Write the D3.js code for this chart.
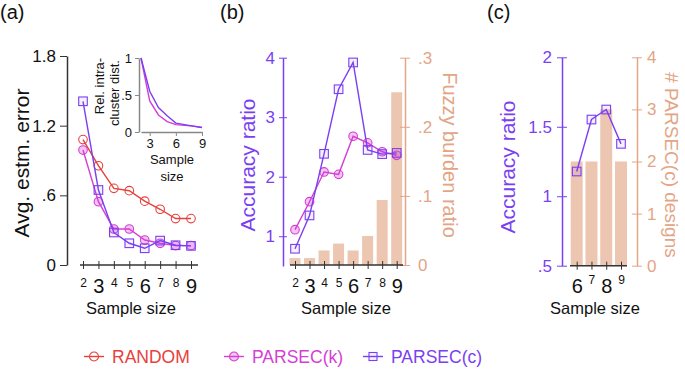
<!DOCTYPE html>
<html>
<head>
<meta charset="utf-8">
<script src="https://cdn.jsdelivr.net/npm/d3@7"></script>
<style>
  body { margin: 0; background: #fff; }
  svg { font-family: "Liberation Sans", Arial, sans-serif; }
  .domain { stroke-width: 1.5; }
</style>
</head>
<body>
<div class="chart"></div>
<script>
// data
var sizes = [2, 3, 4, 5, 6, 7, 8, 9];
var errRandom = [1.08, 0.855, 0.66, 0.64, 0.55, 0.48, 0.40, 0.40];
var errParsecK = [0.99, 0.545, 0.31, 0.31, 0.215, 0.187, 0.167, 0.167];
var errParsecC = [1.41, 0.646, 0.28, 0.187, 0.144, 0.21, 0.17, 0.165];
var distParsecK = [1, 0.42, 0.23, 0.14, 0.10, 0.09, 0.08, 0.06];
var distParsecC = [1, 0.55, 0.33, 0.22, 0.12, 0.10, 0.08, 0.06];
var accParsecC = [0.79, 1.35, 2.385, 3.47, 3.92, 2.45, 2.38, 2.40];
var accParsecK = [1.11, 1.58, 2.08, 2.04, 2.68, 2.57, 2.42, 2.36];
var fuzzyBurden = [0.01, 0.01, 0.021, 0.031, 0.021, 0.042, 0.094, 0.25];
var cSizes = [6, 7, 8, 9];
var cAccuracy = [1.178, 1.552, 1.624, 1.377];
var cDesigns = [2, 2, 3, 2];
var bigTicksAB = [3, 6, 9];
var bigTicksC = [6, 8];

var red = "#e8403c";
var magenta = "#d43fd4";
var purple = "#7b3ff2";
var peach = "#e3a585";
var barColor = "#ecc6b0";
var dark = "#333";

var width = 685;
var height = 375;

// ".6" style labels, no leading zero
var noZero = d => d === 0 ? "0" : String(d).replace(/^0/, "");

var svg = d3.select(".chart")
            .append("svg")
            .attr("width", width)
            .attr("height", height);

// helper: make tick lines cross the axis line
function crossTicks(g, size, vertical) {
  if (vertical) {
    g.selectAll(".tick line").attr("x1", -size).attr("x2", size);
  } else {
    g.selectAll(".tick line").attr("y1", -size).attr("y2", size);
  }
}

function sizeAxis(g, bigList, bigSize, smallSize, bigY, smallY) {
  g.selectAll(".tick text")
   .attr("dy", null)
   .attr("y", d => bigList.indexOf(d) >= 0 ? bigY : smallY)
   .style("font-size", d => bigList.indexOf(d) >= 0 ? bigSize + "px" : smallSize + "px")
   .attr("fill", "#111");
}

function drawSeries(g, xs, ys, xScale, yScale, color, marker, fill) {
  var line = d3.line().x((d, i) => xScale(xs[i])).y(d => yScale(d));
  g.append("path")
   .datum(ys)
   .attr("d", line)
   .attr("fill", "none")
   .attr("stroke", color)
   .attr("stroke-width", 1.4);
  if (marker === "circle") {
    g.selectAll(null)
     .data(ys)
     .enter()
     .append("circle")
     .attr("cx", (d, i) => xScale(xs[i]))
     .attr("cy", d => yScale(d))
     .attr("r", 4.3)
     .attr("fill", fill)
     .attr("stroke", color)
     .attr("stroke-width", 1.1);
  } else {
    g.selectAll(null)
     .data(ys)
     .enter()
     .append("rect")
     .attr("x", (d, i) => xScale(xs[i]) - 4.3)
     .attr("y", d => yScale(d) - 4.3)
     .attr("width", 8.6)
     .attr("height", 8.6)
     .attr("fill", fill)
     .attr("stroke", color)
     .attr("stroke-width", 1.1);
  }
}

// ---------------- panel (a) ----------------
svg.append("text").attr("x", 0).attr("y", 19).text("(a)").style("font-size", "20px").attr("fill", "#111");

var xA = d3.scaleLinear().domain([2, 9]).range([83, 191]);
var yA = d3.scaleLinear().domain([0, 1.8]).range([265, 56]);

var yAxisA = svg.append("g")
  .attr("transform", "translate(67,0)")
  .call(d3.axisLeft(yA).tickValues([0, 0.6, 1.2, 1.8]).tickSize(7).tickSizeOuter(0).tickFormat(noZero));
yAxisA.selectAll("line,path").attr("stroke", dark);
yAxisA.selectAll(".tick text").style("font-size", "17px").attr("fill", "#111").attr("x", -11);

var xAxisA = svg.append("g")
  .attr("transform", "translate(0,265)")
  .call(d3.axisBottom(xA).tickValues(sizes).tickSize(4).tickSizeOuter(0).tickFormat(d3.format("d")));
xAxisA.select(".domain").attr("d", "M80,0H198").attr("stroke", dark);
crossTicks(xAxisA, 4, false);
xAxisA.selectAll(".tick line").attr("stroke", dark);
sizeAxis(xAxisA, bigTicksAB, 20, 12, 28, 22);

svg.append("text")
   .attr("transform", "translate(29,163) rotate(-90)")
   .attr("text-anchor", "middle")
   .style("font-size", "21px")
   .attr("fill", "#111")
   .text("Avg. estm. error");

svg.append("text")
   .attr("x", 131).attr("y", 314)
   .attr("text-anchor", "middle")
   .style("font-size", "16.5px")
   .attr("fill", "#111")
   .text("Sample size");

var gA = svg.append("g");
drawSeries(gA, sizes, errRandom, xA, yA, red, "circle", "none");
drawSeries(gA, sizes, errParsecK, xA, yA, magenta, "circle", "rgba(212,63,212,0.3)");
drawSeries(gA, sizes, errParsecC, xA, yA, purple, "square", "rgba(123,63,242,0.08)");

// inset
var xI = d3.scaleLinear().domain([2, 9]).range([141, 202]);
var yI = d3.scaleLinear().domain([0, 1]).range([132, 58]);
var yAxisI = svg.append("g")
  .attr("transform", "translate(139,0)")
  .call(d3.axisLeft(yI).tickValues([0, 0.5, 1]).tickSize(4).tickSizeOuter(0).tickFormat(noZero));
yAxisI.selectAll("line,path").attr("stroke", "#888");
yAxisI.selectAll(".tick text").style("font-size", "13px").attr("fill", "#111");
var xAxisI = svg.append("g")
  .attr("transform", "translate(0,132)")
  .call(d3.axisBottom(xI).tickValues([3, 6, 9]).tickSize(4).tickSizeOuter(0).tickFormat(d3.format("d")));
xAxisI.selectAll("line,path").attr("stroke", "#888");
xAxisI.selectAll(".tick text").style("font-size", "13px").attr("fill", "#111").attr("y", 7);
var inLine = d3.line().x((d, i) => xI(sizes[i])).y(d => yI(d));
svg.append("path").datum(distParsecK).attr("d", inLine).attr("fill", "none").attr("stroke", magenta).attr("stroke-width", 1.4);
svg.append("path").datum(distParsecC).attr("d", inLine).attr("fill", "none").attr("stroke", purple).attr("stroke-width", 1.4);
svg.append("text").attr("transform", "translate(104,86) rotate(-90)").attr("text-anchor", "middle")
   .style("font-size", "13px").attr("fill", "#111").text("Rel. intra-");
svg.append("text").attr("transform", "translate(119,93) rotate(-90)").attr("text-anchor", "middle")
   .style("font-size", "13px").attr("fill", "#111").text("cluster dist.");
svg.append("text").attr("x", 172).attr("y", 164).attr("text-anchor", "middle")
   .style("font-size", "13px").attr("fill", "#111").text("Sample");
svg.append("text").attr("x", 172).attr("y", 181).attr("text-anchor", "middle")
   .style("font-size", "13px").attr("fill", "#111").text("size");

// ---------------- panel (b) ----------------
svg.append("text").attr("x", 220).attr("y", 19).text("(b)").style("font-size", "20px").attr("fill", "#111");

var xB = d3.scaleLinear().domain([2, 9]).range([295, 396.7]);
var yB = d3.scaleLinear().domain([0.5, 4]).range([266, 57.7]);
var yB2 = d3.scaleLinear().domain([0, 0.3]).range([265, 57.7]);

svg.selectAll(".barB")
   .data(fuzzyBurden)
   .enter()
   .append("rect")
   .attr("class", "barB")
   .attr("x", (d, i) => xB(sizes[i]) - 5.5)
   .attr("y", d => yB2(d))
   .attr("width", 11)
   .attr("height", d => yB2(0) - yB2(d))
   .attr("fill", barColor);

var yAxisB = svg.append("g")
  .attr("transform", "translate(283,0)")
  .call(d3.axisLeft(yB).tickValues([1, 2, 3, 4]).tickSize(4).tickSizeOuter(0).tickFormat(d3.format("d")));
crossTicks(yAxisB, 4, true);
yAxisB.selectAll("line,path").attr("stroke", purple);
yAxisB.selectAll(".tick text").style("font-size", "17px").attr("fill", purple).attr("x", -8);

var yAxisB2 = svg.append("g")
  .attr("transform", "translate(405,0)")
  .call(d3.axisRight(yB2).tickValues([0, 0.1, 0.2, 0.3]).tickSize(5).tickSizeOuter(0).tickFormat(noZero));
crossTicks(yAxisB2, 5, true);
yAxisB2.selectAll("line,path").attr("stroke", peach);
yAxisB2.selectAll(".tick text").style("font-size", "17px").attr("fill", peach).attr("x", 13);

var xAxisB = svg.append("g")
  .attr("transform", "translate(0,265)")
  .call(d3.axisBottom(xB).tickValues(sizes).tickSize(4).tickSizeOuter(0).tickFormat(d3.format("d")));
xAxisB.select(".domain").attr("d", "M290,0H403").attr("stroke", dark);
crossTicks(xAxisB, 4, false);
xAxisB.selectAll(".tick line").attr("stroke", dark);
sizeAxis(xAxisB, bigTicksAB, 20, 12, 28, 22);

var gB = svg.append("g");
drawSeries(gB, sizes, accParsecK, xB, yB, magenta, "circle", "rgba(212,63,212,0.3)");
drawSeries(gB, sizes, accParsecC, xB, yB, purple, "square", "rgba(123,63,242,0.08)");

svg.append("text")
   .attr("transform", "translate(255,165) rotate(-90)")
   .attr("text-anchor", "middle")
   .style("font-size", "21px")
   .attr("fill", purple)
   .text("Accuracy ratio");
svg.append("text")
   .attr("transform", "translate(443,155) rotate(90)")
   .attr("text-anchor", "middle")
   .style("font-size", "20px")
   .attr("fill", peach)
   .text("Fuzzy burden ratio");
svg.append("text")
   .attr("x", 346).attr("y", 314)
   .attr("text-anchor", "middle")
   .style("font-size", "16.5px")
   .attr("fill", "#111")
   .text("Sample size");

// ---------------- panel (c) ----------------
svg.append("text").attr("x", 487).attr("y", 19).text("(c)").style("font-size", "20px").attr("fill", "#111");

var xC = d3.scaleLinear().domain([6, 9]).range([576.7, 621]);
var yC = d3.scaleLinear().domain([0.5, 2]).range([265.7, 57.3]);
var yC2 = d3.scaleLinear().domain([0, 4]).range([265.7, 57.3]);

svg.selectAll(".barC")
   .data(cDesigns)
   .enter()
   .append("rect")
   .attr("class", "barC")
   .attr("x", (d, i) => xC(cSizes[i]) - 6)
   .attr("y", d => yC2(d))
   .attr("width", 12)
   .attr("height", d => yC2(0) - yC2(d))
   .attr("fill", barColor);

var yAxisC = svg.append("g")
  .attr("transform", "translate(562,0)")
  .call(d3.axisLeft(yC).tickValues([0.5, 1, 1.5, 2]).tickSize(5).tickSizeOuter(0).tickFormat(noZero));
crossTicks(yAxisC, 5, true);
yAxisC.selectAll("line,path").attr("stroke", purple);
yAxisC.selectAll(".tick text").style("font-size", "17px").attr("fill", purple).attr("x", -10);

var yAxisC2 = svg.append("g")
  .attr("transform", "translate(637,0)")
  .call(d3.axisRight(yC2).tickValues([0, 1, 2, 3, 4]).tickSize(5).tickSizeOuter(0).tickFormat(d3.format("d")));
crossTicks(yAxisC2, 5, true);
yAxisC2.selectAll("line,path").attr("stroke", peach);
yAxisC2.selectAll(".tick text").style("font-size", "17px").attr("fill", peach).attr("x", 10);

var xAxisC = svg.append("g")
  .attr("transform", "translate(0,265.7)")
  .call(d3.axisBottom(xC).tickValues(cSizes).tickSize(4).tickSizeOuter(0).tickFormat(d3.format("d")));
xAxisC.select(".domain").attr("d", "M570,0H627").attr("stroke", dark);
crossTicks(xAxisC, 4, false);
xAxisC.selectAll(".tick line").attr("stroke", dark);
sizeAxis(xAxisC, bigTicksC, 20, 12, 27, 18);

var gC = svg.append("g");
drawSeries(gC, cSizes, cAccuracy, xC, yC, purple, "square", "rgba(123,63,242,0.08)");

svg.append("text")
   .attr("transform", "translate(515,167) rotate(-90)")
   .attr("text-anchor", "middle")
   .style("font-size", "21px")
   .attr("fill", purple)
   .text("Accuracy ratio");
svg.append("text")
   .attr("transform", "translate(665,165) rotate(90)")
   .attr("text-anchor", "middle")
   .style("font-size", "19px")
   .attr("fill", peach)
   .text("# PARSEC(c) designs");
svg.append("text")
   .attr("x", 595).attr("y", 314)
   .attr("text-anchor", "middle")
   .style("font-size", "16.5px")
   .attr("fill", "#111")
   .text("Sample size");

// ---------------- legend ----------------
var legendItems = [
  { name: "RANDOM", color: red, marker: "circle", fill: "none", x: 94 },
  { name: "PARSEC(k)", color: magenta, marker: "circle", fill: "rgba(212,63,212,0.3)", x: 234 },
  { name: "PARSEC(c)", color: purple, marker: "square", fill: "rgba(123,63,242,0.08)", x: 373 }
];
var legend = svg.selectAll(".legend")
  .data(legendItems)
  .enter()
  .append("g")
  .attr("class", "legend")
  .attr("transform", d => "translate(" + d.x + ",356.5)");
legend.append("line")
  .attr("x1", -10).attr("x2", 10)
  .attr("stroke", d => d.color).attr("stroke-width", 1.4);
legend.filter(d => d.marker === "circle")
  .append("circle").attr("r", 4.5)
  .attr("fill", d => d.fill).attr("stroke", d => d.color).attr("stroke-width", 1.1);
legend.filter(d => d.marker === "square")
  .append("rect").attr("x", -4).attr("y", -4).attr("width", 8).attr("height", 8)
  .attr("fill", d => d.fill).attr("stroke", d => d.color).attr("stroke-width", 1.1);
legend.append("text")
  .attr("x", 18).attr("y", 6.5)
  .style("font-size", "17.5px")
  .attr("fill", d => d.color)
  .text(d => d.name);
</script>
</body>
</html>
